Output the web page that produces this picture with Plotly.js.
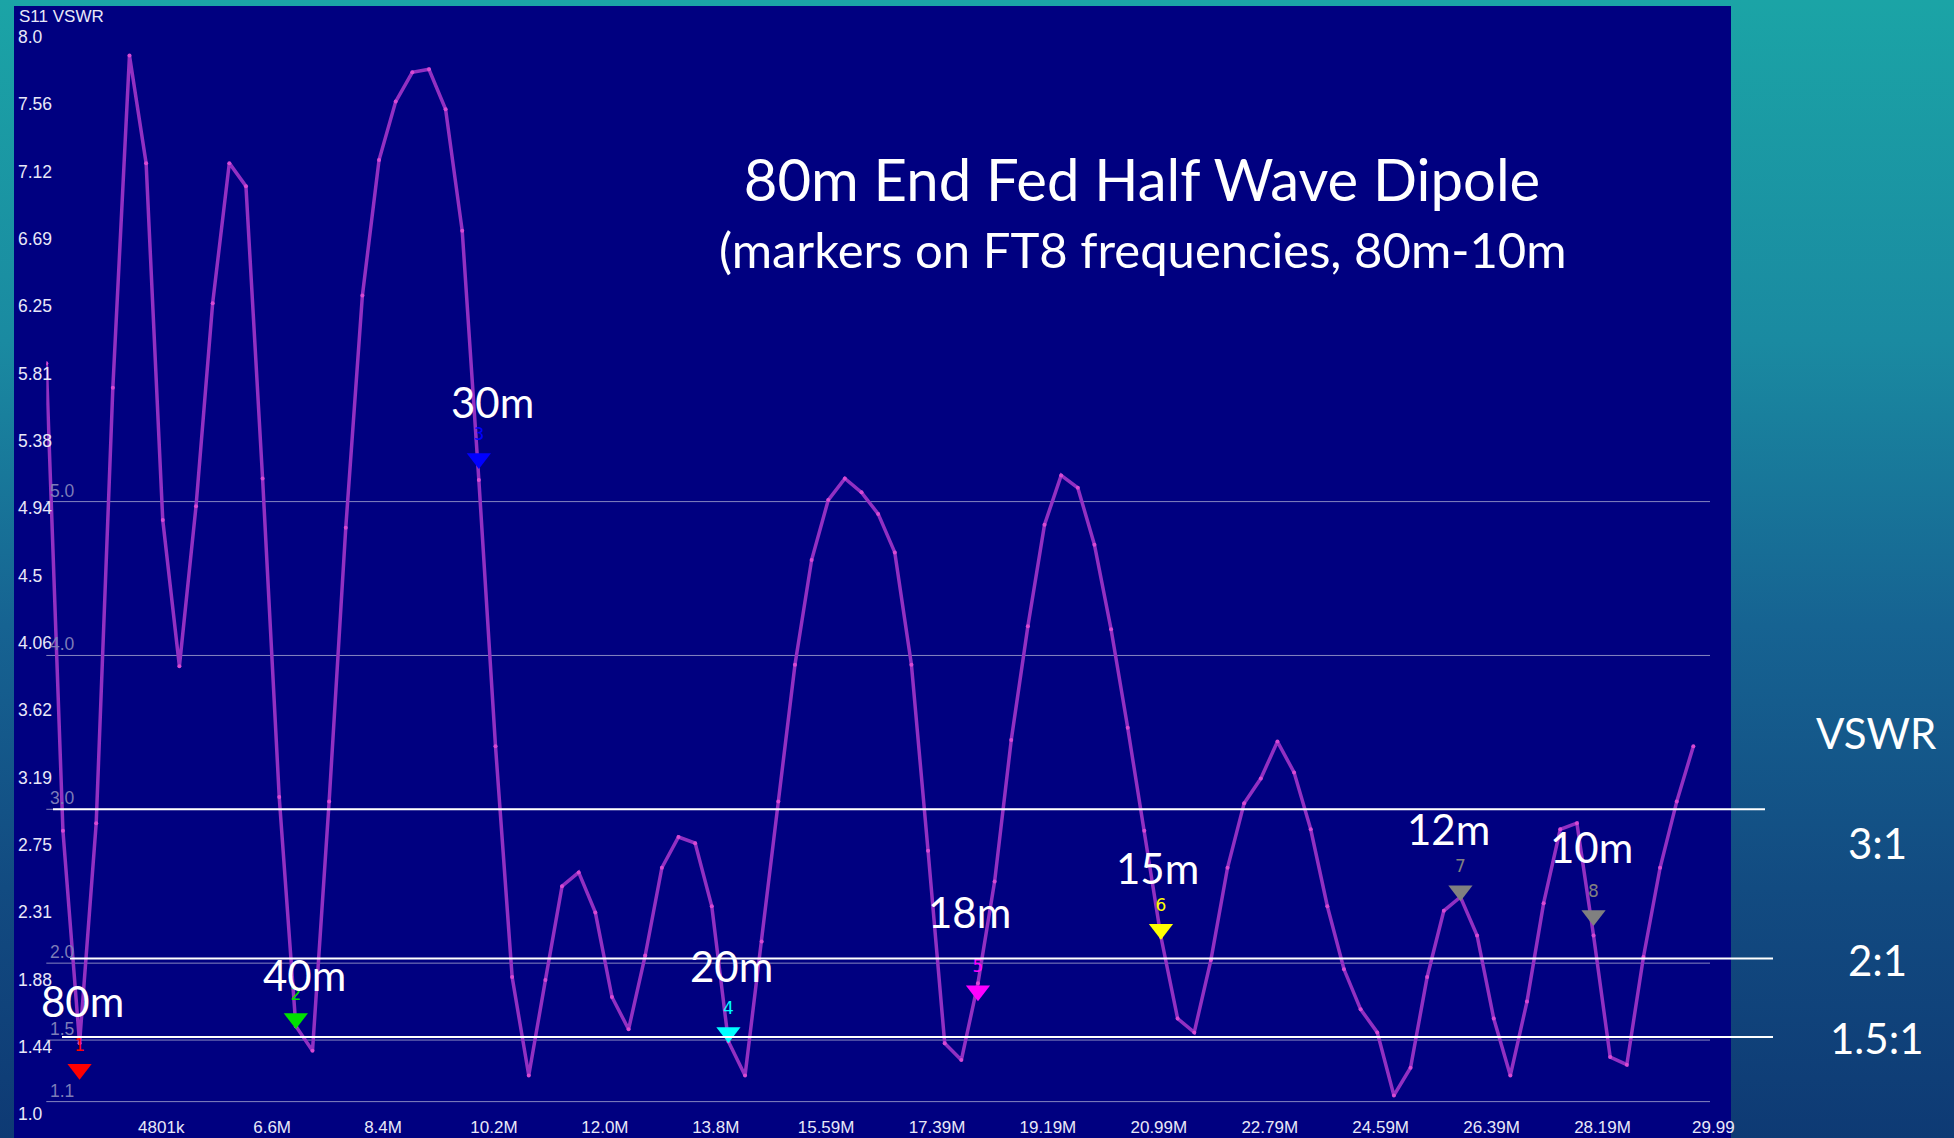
<!DOCTYPE html>
<html>
<head>
<meta charset="utf-8">
<script src="https://cdn.plot.ly/plotly-3.0.1.min.js"></script>
<style>
  html, body { margin: 0; padding: 0; overflow: hidden; }
  body {
    width: 1954px; height: 1138px;
    background: linear-gradient(180deg, #1ba4a6 0%, #1a8aa1 30%, #166392 55%, #124b81 78%, #0e3a74 100%);
  }
  #chart { width: 1954px; height: 1138px; }
</style>
</head>
<body>
<div id="chart"></div>
<script>
// ---------------- data ----------------
const titleText = "80m End Fed Half Wave Dipole";
const subtitleText = "(markers on FT8 frequencies, 80m-10m";
const axisLabel = "S11 VSWR";

// sweep frequencies (MHz)
const freqMHz = [
  3.00, 3.27, 3.54, 3.81, 4.08, 4.35, 4.62, 4.89, 5.16, 5.43,
  5.70, 5.97, 6.24, 6.51, 6.78, 7.05, 7.32, 7.59, 7.86, 8.13,
  8.40, 8.67, 8.94, 9.21, 9.48, 9.75, 10.02, 10.29, 10.56, 10.83,
  11.10, 11.37, 11.64, 11.91, 12.18, 12.45, 12.72, 12.99, 13.26, 13.53,
  13.80, 14.07, 14.34, 14.61, 14.88, 15.15, 15.42, 15.69, 15.96, 16.23,
  16.50, 16.77, 17.04, 17.31, 17.58, 17.85, 18.12, 18.39, 18.66, 18.93,
  19.20, 19.47, 19.74, 20.01, 20.28, 20.55, 20.82, 21.09, 21.36, 21.63,
  21.90, 22.17, 22.44, 22.71, 22.98, 23.25, 23.52, 23.79, 24.06, 24.33,
  24.60, 24.87, 25.14, 25.41, 25.68, 25.95, 26.22, 26.49, 26.76, 27.03,
  27.30, 27.57, 27.84, 28.11, 28.38, 28.65, 28.92, 29.19, 29.46, 29.73
];
// S11 VSWR read at each sweep point
const vswr = [
  5.90, 2.86, 1.48, 2.91, 5.74, 7.90, 7.20, 4.88, 3.93, 4.97,
  6.29, 7.20, 7.05, 5.15, 3.08, 1.59, 1.43, 3.05, 4.83, 6.34,
  7.22, 7.60, 7.79, 7.81, 7.55, 6.76, 5.14, 3.41, 1.91, 1.27,
  1.89, 2.50, 2.59, 2.33, 1.78, 1.57, 2.05, 2.62, 2.82, 2.78,
  2.37, 1.49, 1.27, 2.14, 3.05, 3.94, 4.62, 5.01, 5.15, 5.06,
  4.92, 4.67, 3.94, 2.73, 1.48, 1.37, 1.87, 2.53, 3.45, 4.19,
  4.85, 5.17, 5.09, 4.72, 4.17, 3.53, 2.86, 2.17, 1.64, 1.55,
  2.02, 2.62, 3.04, 3.20, 3.44, 3.24, 2.87, 2.37, 1.96, 1.70,
  1.55, 1.14, 1.32, 1.91, 2.34, 2.43, 2.18, 1.64, 1.27, 1.75,
  2.39, 2.87, 2.91, 2.18, 1.39, 1.34, 2.04, 2.62, 3.05, 3.41
];

// FT8 markers
const markerIds = ["1", "2", "3", "4", "5", "6", "7", "8"];
const markerFreq = [3.54, 7.05, 10.02, 14.07, 18.12, 21.09, 25.95, 28.11];
const markerVswr = [1.31, 1.64, 5.28, 1.55, 1.82, 2.22, 2.47, 2.31];
const bandNames = ["80m", "40m", "30m", "20m", "18m", "15m", "12m", "10m"];

// axis ticks
const xTickVals = [3.002, 4.801, 6.6, 8.4, 10.2, 12.0, 13.8, 15.59, 17.39, 19.19, 20.99, 22.79, 24.59, 26.39, 28.19, 29.99];
const xTickText = ["3002k", "4801k", "6.6M", "8.4M", "10.2M", "12.0M", "13.8M", "15.59M", "17.39M", "19.19M", "20.99M", "22.79M", "24.59M", "26.39M", "28.19M", "29.99"];
const yTickVals = [8.0, 7.5625, 7.125, 6.6875, 6.25, 5.8125, 5.375, 4.9375, 4.5, 4.0625, 3.625, 3.1875, 2.75, 2.3125, 1.875, 1.4375, 1.0];
const yTickText = ["8.0", "7.56", "7.12", "6.69", "6.25", "5.81", "5.38", "4.94", "4.5", "4.06", "3.62", "3.19", "2.75", "2.31", "1.88", "1.44", "1.0"];
const gridVals = [1.1, 1.5, 2.0, 3.0, 4.0, 5.0];
const gridText = ["1.1", "1.5", "2.0", "3.0", "4.0", "5.0"];

// VSWR reference lines drawn over the chart
const refLineVals = [3.0, 2.03, 1.52];
const refLineText = ["3:1", "2:1", "1.5:1"];
const refHeader = "VSWR";

// ---------------- layout helpers (pixels) ----------------
const W = 1954, H = 1138;
const fx = p => p / W;            // pixel x -> paper
const fy = p => 1 - p / H;        // pixel y -> paper

const xPix0 = 46.3, xPix1 = 1710;          // 3.0 MHz .. 30.0 MHz
const yPixAt1 = 1117, pxPerUnit = 153.85;  // y pixel of VSWR 1.0, pixels per unit
const yLo = 0.9, yHi = 8.1;                // padded range so edge labels stay visible
const yPix = v => yPixAt1 - (v - 1) * pxPerUnit;

const markerColors = ["#ff0000", "#00e000", "#0000ff", "#00ffff", "#ff00ff", "#ffff00", "#808080", "#808080"];
const bandShift = [[3, 68], [9, 44], [14, 57], [3, 66], [-8, 79], [-3, 61], [-12, 62], [-2, 68]];

const calib = "Lato, 'Open Sans', sans-serif";
const tickFont = "'Liberation Sans', Arial, sans-serif";

const traces = [
  {
    type: "scatter",
    mode: "lines+markers",
    x: freqMHz,
    y: vswr,
    xaxis: "x", yaxis: "y",
    line: { color: "#9230c2", width: 3.5 },
    marker: { color: "#d84ad2", size: 4 },
    hoverinfo: "x+y",
    showlegend: false
  },
  {
    type: "scatter",
    mode: "markers+text",
    x: markerFreq,
    y: markerVswr,
    xaxis: "x", yaxis: "y",
    text: markerIds,
    textposition: "top center",
    textfont: { family: "'DejaVu Sans', sans-serif", size: 17, color: markerColors },
    marker: { symbol: "triangle-down", size: 21, color: markerColors, line: { width: 0 } },
    cliponaxis: false,
    showlegend: false
  }
];

const shapes = [
  {
    type: "rect", xref: "paper", yref: "paper",
    x0: fx(14), x1: fx(1731), y0: 0, y1: fy(6),
    fillcolor: "#000080", line: { width: 0 }, layer: "below"
  }
];
// faint analyser grid lines
gridVals.forEach(v => {
  shapes.push({
    type: "line", xref: "paper", yref: "y",
    x0: fx(xPix0), x1: fx(xPix1), y0: v, y1: v,
    line: { color: "#8585c0", width: 1 }, layer: "below"
  });
});
// white VSWR reference lines
const refLineX = [[53, 1765], [70, 1773], [62, 1773]];
refLineVals.forEach((v, i) => {
  shapes.push({
    type: "line", xref: "paper", yref: "y",
    x0: fx(refLineX[i][0]), x1: fx(refLineX[i][1]), y0: v, y1: v,
    line: { color: "#ffffff", width: 2 }, layer: "above"
  });
});

const annotations = [
  {
    text: axisLabel, xref: "paper", yref: "paper",
    x: fx(17), y: fy(16.5), xanchor: "left", yanchor: "middle",
    showarrow: false, font: { family: tickFont, size: 17, color: "#e8e8f8" }
  },
  {
    text: subtitleText, xref: "paper", yref: "paper",
    x: fx(1143), y: fy(249), xanchor: "center", yanchor: "middle",
    showarrow: false, font: { family: calib, size: 49, color: "#ffffff" }
  },
  {
    text: refHeader, xref: "paper", yref: "paper",
    x: fx(1876), y: fy(733), xanchor: "center", yanchor: "middle",
    showarrow: false, font: { family: calib, size: 42, color: "#ffffff" }
  }
];
gridText.forEach((t, i) => {
  annotations.push({
    text: t, xref: "paper", yref: "y",
    x: fx(48), y: gridVals[i], xanchor: "left", yanchor: "bottom",
    yshift: -1, showarrow: false,
    font: { family: tickFont, size: 17.5, color: "#7c7cb8" }
  });
});
const refLabelY = [843, 960, 1038];
refLineText.forEach((t, i) => {
  annotations.push({
    text: t, xref: "paper", yref: "paper",
    x: fx(1877), y: fy(refLabelY[i]), xanchor: "center", yanchor: "middle",
    showarrow: false, font: { family: calib, size: 42, color: "#ffffff" }
  });
});
bandNames.forEach((t, i) => {
  annotations.push({
    text: t, xref: "x", yref: "y",
    x: markerFreq[i], y: markerVswr[i],
    xshift: bandShift[i][0], yshift: bandShift[i][1],
    xanchor: "center", yanchor: "middle",
    showarrow: false, font: { family: calib, size: 42, color: "#ffffff" }
  });
});

const layout = {
  width: W, height: H,
  margin: { l: 0, r: 0, t: 0, b: 0, pad: 0 },
  paper_bgcolor: "rgba(0,0,0,0)",
  plot_bgcolor: "rgba(0,0,0,0)",
  showlegend: false,
  title: {
    text: titleText,
    xref: "paper", yref: "paper",
    x: fx(1142), y: fy(181), xanchor: "center", yanchor: "middle",
    font: { family: calib, size: 58, color: "#ffffff" }
  },
  xaxis: {
    domain: [fx(xPix0), fx(xPix1)],
    range: [3.0, 30.0],
    anchor: "free", position: fy(yPixAt1 - 2),
    showgrid: false, zeroline: false, showline: false, ticks: "",
    tickmode: "array", tickvals: xTickVals, ticktext: xTickText,
    ticklabelshift: 4, ticklabeloverflow: "allow",
    tickfont: { family: tickFont, size: 17, color: "#e8e8f8" },
    fixedrange: true
  },
  yaxis: {
    domain: [fy(yPix(yLo)), fy(yPix(yHi))],
    range: [yLo, yHi],
    anchor: "free", position: fx(14),
    ticklabelposition: "inside",
    showgrid: false, zeroline: false, showline: false, ticks: "",
    tickmode: "array", tickvals: yTickVals, ticktext: yTickText,
    ticklabelshift: -3,
    tickfont: { family: tickFont, size: 17.5, color: "#e8e8f8" },
    fixedrange: true
  },
  shapes: shapes,
  annotations: annotations
};

Plotly.newPlot("chart", traces, layout, { displayModeBar: false, staticPlot: true });
</script>
</body>
</html>
